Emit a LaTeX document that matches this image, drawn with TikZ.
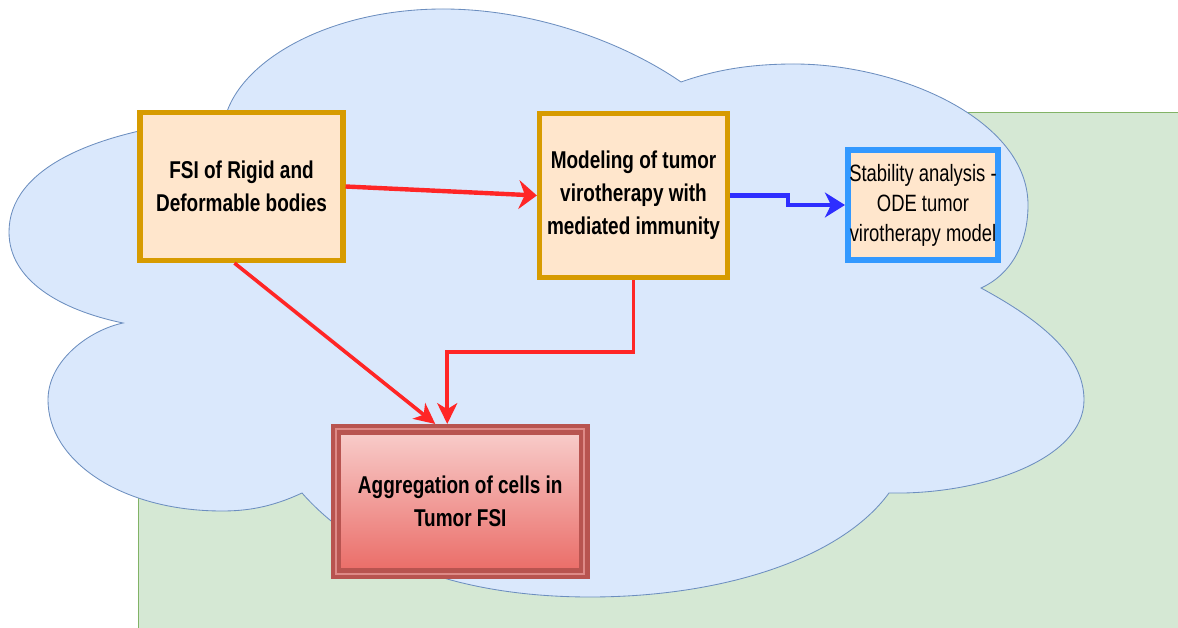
\documentclass[tikz,border=0pt]{standalone}
\usepackage{fontspec}
\setmainfont[FakeStretch=0.78]{Liberation Sans}
\usetikzlibrary{arrows.meta,calc}

\definecolor{cloudfill}{HTML}{DAE8FC}
\definecolor{cloudline}{HTML}{6C8EBF}
\definecolor{greenfill}{HTML}{D5E8D4}
\definecolor{greenline}{HTML}{82B366}
\definecolor{peach}{HTML}{FFE6CC}
\definecolor{gold}{HTML}{D79B00}
\definecolor{skyblue}{HTML}{3399FF}
\definecolor{darkred}{HTML}{B85450}
\definecolor{paleline}{HTML}{DE8A87}
\definecolor{lightred}{HTML}{F8CECC}
\definecolor{midred}{HTML}{EA6B66}
\definecolor{arrowred}{HTML}{FF2626}
\definecolor{arrowblue}{HTML}{2E2EFF}

\tikzset{
    greenarea/.style={draw=greenline, fill=greenfill, line width=0.6pt},
    cloud/.style={draw=cloudline, fill=cloudfill, line width=0.6pt},
    bodybox/.style={draw=gold, fill=peach, line width=0.14cm, align=center, inner sep=0pt,
        font=\fontsize{17.3}{23.4}\selectfont\bfseries},
    stabbox/.style={draw=skyblue, fill=peach, line width=0.14cm, align=center, inner sep=0pt,
        font=\fontsize{16.8}{21.3}\selectfont},
    aggbox/.style={draw=darkred, double=paleline, double distance=0.05cm, line width=0.11cm,
        top color=lightred, bottom color=midred, outer sep=0.1375cm, align=center, inner sep=0pt,
        font=\fontsize{17.3}{23.4}\selectfont\bfseries},
    redbig/.style={draw=arrowred, line width=0.11cm,
        -{Stealth[length=0.45cm, width=0.72cm, inset=0.15cm]}},
    redthin/.style={draw=arrowred, line width=0.09cm,
        -{Stealth[length=0.52cm, width=0.5cm, inset=0.15cm]}},
    bluestep/.style={draw=arrowblue, line width=0.11cm,
        -{Stealth[length=0.5cm, width=0.62cm, inset=0.15cm]}}
}

\begin{document}
\begin{tikzpicture}[x=0.025cm, y=-0.025cm]

    \useasboundingbox (0,0) rectangle (1178,628);
    \clip (0,0) rectangle (1178,628);

    \draw[greenarea] (138,112) rectangle (1200,650);

    \draw[cloud] (123,323) .. controls (60,310) and (9,280) .. (9,232)
       .. controls (9,170) and (90,130) .. (225,118)
       .. controls (240,60) and (330,9) .. (443,9)
       .. controls (530,9) and (620,40) .. (681,82)
       .. controls (715,70) and (750,64) .. (794,64)
       .. controls (900,64) and (1028,120) .. (1028,205)
       .. controls (1028,245) and (1010,275) .. (981,288)
       .. controls (1040,320) and (1084,355) .. (1084,400)
       .. controls (1084,460) and (980,495) .. (889,493)
       .. controls (840,560) and (720,597) .. (590,597)
       .. controls (480,597) and (370,570) .. (302,493)
       .. controls (270,508) and (245,511) .. (222,511)
       .. controls (120,511) and (48,460) .. (48,400)
       .. controls (48,360) and (90,330) .. (123,323) -- cycle;

    \node[bodybox, minimum width=5.06cm, minimum height=3.69cm] (fsi) at (241.5,186.5)
       {FSI of Rigid and\\Deformable bodies};
    \node[bodybox, minimum width=4.69cm, minimum height=4.09cm] (model) at (633.5,195.5)
       {Modeling of tumor\\virotherapy with\\mediated immunity};
    \node[stabbox, minimum width=3.76cm, minimum height=2.76cm] (stab) at (923,205)
       {Stability analysis -\\ODE tumor\\virotherapy model};
    \node[aggbox, minimum width=6.21cm, minimum height=3.6cm] (agg) at (460.25,501.5)
       {Aggregation of cells in\\Tumor FSI};

    \draw[redbig] (fsi.east) -- (model.west);
    \draw[redthin] ($(fsi.south)+(-7,0)$) -- ($(agg.north)+(-25,0)$);
    \draw[redthin] (model.south) -- ++(0,72) -| ($(agg.north)+(-13,0)$);
    \draw[bluestep] (model.east) -- ++(58,0) |- (stab.west);

\end{tikzpicture}
\end{document}
